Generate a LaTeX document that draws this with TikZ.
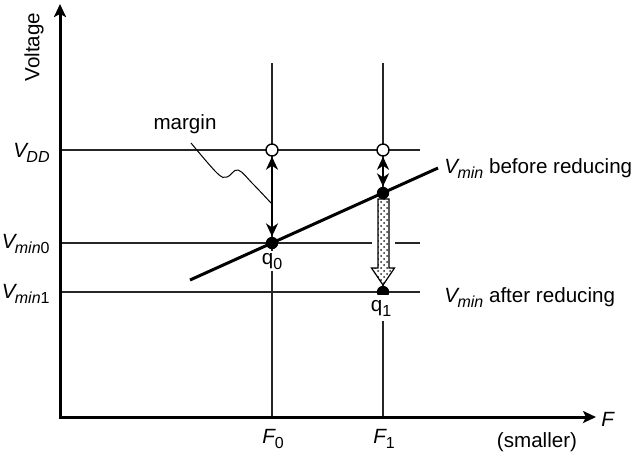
\documentclass[tikz,border=0pt]{standalone}
\usepackage{fontspec}
\setmainfont{Liberation Sans}
\usetikzlibrary{arrows.meta,patterns}
\newcommand{\sbs}[1]{\raisebox{-2.5pt}{\fontsize{8}{9}\selectfont #1}}
\newcommand{\vv}{{\itshape V}\kern-0.3pt}
\tikzset{
  axisline/.style={line width=1.5pt,{Stealth[length=6.5pt,width=6pt,inset=1.5pt]}-{Stealth[length=6.5pt,width=6pt,inset=1.5pt]}},
  gridline/.style={line width=0.55pt,black!85},
  vminline/.style={line width=1.5pt},
  margarrow/.style={line width=1.1pt,{Stealth[length=6.5pt,width=6pt,inset=2pt]}-{Stealth[length=6.5pt,width=6pt,inset=2pt]}},
  odot/.style={circle,draw,fill=white,line width=0.7pt,minimum size=6pt,inner sep=0pt},
  fdot/.style={circle,fill=black,minimum size=6.2pt,inner sep=0pt},
  lab/.style={font=\fontsize{10.3}{12}\selectfont,inner sep=0.5pt},
  qlab/.style={lab,fill=white,inner sep=1pt},
  leader/.style={line width=0.5pt},
}
\begin{document}
\begin{tikzpicture}[x=0.5pt,y=-0.5pt]
\useasboundingbox (0,0) rectangle (635,457);
% axes
\coordinate (ytop) at (60,4);
\coordinate (orig) at (60,417);
\coordinate (xend) at (596,417);
% grid lines
\coordinate (F0top) at (272,63);
\coordinate (F0bot) at (272,417);
\coordinate (F1top) at (383,63);
\coordinate (F1bot) at (383,417);
\draw[gridline] (F0top) -- (F0bot);
\draw[gridline] (F1top) -- (F1bot);
\coordinate (hdd0) at (60,150);   \coordinate (hdd1) at (420,150);
\coordinate (hm00) at (60,243);   \coordinate (hm01) at (420,243);
\coordinate (hm10) at (60,292);   \coordinate (hm11) at (420,292);
\draw[gridline] (hdd0) -- (hdd1);
\draw[gridline] (hm00) -- (hm01);
\draw[gridline] (hm10) -- (hm11);
\draw[axisline] (ytop) -- (orig) -- (xend);
% gap around the reducing arrow
\fill[white] (372,238) rectangle (395,248);
% hollow dotted arrow
\path[fill=white] (378,199) -- (378,268) -- (371.5,268) -- (383,285) -- (394.5,268) -- (389,268) -- (389,199) -- cycle;
\path[pattern=crosshatch dots,pattern color=black!85] (378,199) -- (378,268) -- (371.5,268) -- (383,285) -- (394.5,268) -- (389,268) -- (389,199) -- cycle;
\draw[line width=0.6pt,line join=miter] (378,199) -- (378,268) -- (371.5,268) -- (383,285) -- (394.5,268) -- (389,268) -- (389,199) -- cycle;
% Vmin line
\coordinate (vl0) at (190,280);
\coordinate (vl1) at (438,168);
\draw[vminline] (vl0) -- (vl1);
% points
\node[odot] (a0) at (272,150) {};
\node[odot] (a1) at (383,150) {};
\node[fdot] (q0) at (272,243) {};
\node[fdot] (b1) at (383,193) {};
\node[fdot] (q1) at (383,292) {};
% margin arrows
\draw[margarrow] (a0) -- (q0);
\draw[margarrow] (a1) -- (b1);
% labels
\node[qlab,anchor=base] (q0lab) at (272,264) {q\sbs{0}};
\node[qlab,anchor=base,minimum height=13pt] (q1lab) at (381,311) {q\sbs{1}};
\node[lab,anchor=base east] (lvdd) at (51,157) {\vv\sbs{\itshape DD}};
\node[lab,anchor=base east] (lvm0) at (51,248) {\vv\sbs{{\itshape min}0}};
\node[lab,anchor=base east] (lvm1) at (51,298) {\vv\sbs{{\itshape min}1}};
\node[lab,anchor=base west] (lbef) at (443,173) {\vv\sbs{\itshape min} before reducing};
\node[lab,anchor=base west] (laft) at (443,302) {\vv\sbs{\itshape min} after reducing};
\node[lab,anchor=base] (lf0) at (273,443) {{\itshape F}\sbs{0}};
\node[lab,anchor=base] (lf1) at (384,443) {{\itshape F}\sbs{1}};
\node[lab,anchor=base west] (lf) at (600,426) {\itshape F};
\node[lab,anchor=base] (lsm) at (537,447) {(smaller)};
\node[lab,anchor=base] (lmar) at (185,129) {margin};
\node[lab,rotate=90] (lvolt) at (34,47) {Voltage};
% margin leader
\coordinate (mstart) at (191,143);
\coordinate (mend) at (271,203);
\draw[leader] plot[smooth,tension=0.6] coordinates {(mstart) (217,173) (227,177) (238,170) (253,184) (mend)};
\end{tikzpicture}
\end{document}
